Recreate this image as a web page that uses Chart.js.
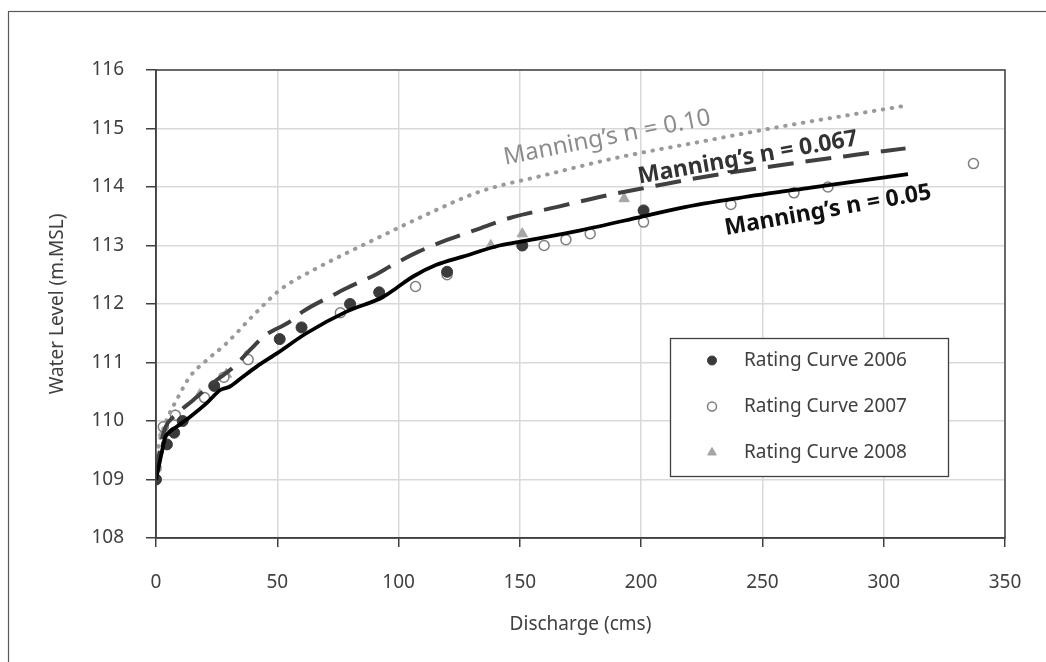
<!DOCTYPE html>
<html>
<head>
<meta charset="utf-8">
<script src="https://cdn.jsdelivr.net/npm/chart.js@4.4.0/dist/chart.umd.min.js"></script>
<style>
  html, body { margin: 0; padding: 0; background: #fff; }
</style>
</head>
<body>
<canvas id="ratingChart" width="1046" height="662"></canvas>
<script>
// Manning's n = 0.05 (solid)
const q05 = [0, 2.3, 3.7, 5, 8.5, 14, 21, 26.5, 30.5, 35, 41.5, 50, 62, 78.5, 93.6, 99, 106, 115.6, 126.5, 141.6, 152, 175, 200, 216, 240, 270, 310];
const h05 = [109.0, 109.45, 109.71, 109.79, 109.9, 110.07, 110.31, 110.53, 110.59, 110.73, 110.93, 111.16, 111.5, 111.87, 112.12, 112.27, 112.47, 112.67, 112.81, 113.0, 113.08, 113.26, 113.49, 113.64, 113.81, 113.99, 114.22];

// Manning's n = 0.067 (dashed)
const q067 = [0, 2, 4, 8, 15.4, 25, 30.5, 39.4, 44.2, 55.2, 60.5, 72.9, 78.5, 90.9, 96.4, 108, 119.7, 133.4, 145.8, 165.5, 182.8, 203.4, 222.6, 255, 288.5, 309];
const h067 = [109.05, 109.6, 109.9, 110.1, 110.36, 110.7, 110.87, 111.24, 111.44, 111.7, 111.87, 112.15, 112.27, 112.51, 112.64, 112.89, 113.09, 113.29, 113.47, 113.66, 113.83, 114.0, 114.15, 114.36, 114.55, 114.66];

// Manning's n = 0.10 (dotted)
const q10 = [0, 0.8, 2.5, 4.9, 8.5, 14, 20.9, 29.1, 40, 51.1, 64.8, 78.5, 89.4, 110, 133.4, 160, 190, 224, 260, 307.6];
const h10 = [109.1, 109.5, 109.8, 110.07, 110.36, 110.76, 111.04, 111.33, 111.8, 112.24, 112.58, 112.87, 113.09, 113.5, 113.92, 114.2, 114.5, 114.77, 115.05, 115.38];

// observed rating curves
const q2006 = [0, 4.5, 7.5, 11, 24, 51, 60, 80, 92, 120, 151, 201];
const h2006 = [109.0, 109.6, 109.8, 110.0, 110.6, 111.4, 111.6, 112.0, 112.2, 112.55, 113.0, 113.6];

const q2007 = [0, 1, 3, 8, 20, 28, 38, 76, 107, 120, 160, 169, 179, 201, 237, 263, 277, 337];
const h2007 = [109.2, 109.5, 109.9, 110.1, 110.4, 110.75, 111.05, 111.85, 112.3, 112.5, 113.0, 113.1, 113.2, 113.4, 113.7, 113.9, 114.0, 114.4];

const q2008 = [0, 1, 3, 8, 18, 29, 37, 138, 151, 193];
const h2008 = [109.2, 109.5, 109.8, 110.1, 110.45, 110.8, 111.1, 113.0, 113.2, 113.8];

const xTicks = [0, 50, 100, 150, 200, 250, 300, 350];
const yTicks = [108, 109, 110, 111, 112, 113, 114, 115, 116];

const FONT = "'Noto Sans', 'Open Sans', sans-serif";

function pairs(xs, ys) {
    return xs.map((x, i) => ({x: x, y: ys[i]}));
}

function lineSet(label, xs, ys, color, width, dash) {
    return {
        label: label,
        data: pairs(xs, ys),
        showLine: true,
        borderColor: color,
        borderWidth: width,
        borderDash: dash,
        borderCapStyle: dash.length && dash[0] < 4 ? 'round' : 'butt',
        pointRadius: 0,
        fill: false,
        cubicInterpolationMode: 'monotone',
        inLegend: false
    };
}

// frame round the whole figure and border of the plot area
const framePlugin = {
    id: 'frame',
    beforeDraw(chart) {
        const ctx = chart.ctx;
        ctx.save();
        ctx.fillStyle = '#fff';
        ctx.fillRect(0, 0, chart.width, chart.height);
        ctx.strokeStyle = '#595959';
        ctx.lineWidth = 1.2;
        ctx.strokeRect(8.5, 11.5, chart.width + 20, chart.height + 20);
        ctx.restore();
    },
    afterDatasetsDraw(chart) {
        const a = chart.chartArea;
        const ctx = chart.ctx;
        ctx.save();
        ctx.strokeStyle = '#404040';
        ctx.lineWidth = 1.5;
        ctx.strokeRect(a.left, a.top, a.right - a.left, a.bottom - a.top);
        ctx.restore();
    }
};

// rotated labels for the Manning's curves
const curveLabels = [
    {text: 'Manning\u2019s n = 0.10', x: 186, y: 114.84, angle: -11, color: '#8c8c8c', weight: 'normal', size: 24},
    {text: 'Manning\u2019s n = 0.067', x: 244, y: 114.5, angle: -10, color: '#333333', weight: 'bold', size: 23},
    {text: 'Manning\u2019s n = 0.05', x: 277, y: 113.6, angle: -10, color: '#111111', weight: 'bold', size: 23}
];

const labelPlugin = {
    id: 'curveLabels',
    afterDatasetsDraw(chart) {
        const ctx = chart.ctx;
        const xs = chart.scales.x, ys = chart.scales.y;
        curveLabels.forEach(l => {
            ctx.save();
            ctx.translate(xs.getPixelForValue(l.x), ys.getPixelForValue(l.y));
            ctx.rotate(l.angle * Math.PI / 180);
            ctx.font = l.weight + ' ' + l.size + 'px ' + FONT;
            ctx.fillStyle = l.color;
            ctx.textAlign = 'center';
            ctx.textBaseline = 'middle';
            ctx.fillText(l.text, 0, 0);
            ctx.restore();
        });
    }
};

// legend box inside the plot
const legendPlugin = {
    id: 'boxLegend',
    afterDraw(chart) {
        const ctx = chart.ctx;
        const box = {x: 670.5, y: 338.5, w: 278, h: 138};
        ctx.save();
        ctx.fillStyle = '#fff';
        ctx.fillRect(box.x, box.y, box.w, box.h);
        ctx.strokeStyle = '#404040';
        ctx.lineWidth = 1.3;
        ctx.strokeRect(box.x, box.y, box.w, box.h);
        const items = chart.data.datasets.filter(d => d.inLegend);
        ctx.font = '19px ' + FONT;
        ctx.textBaseline = 'middle';
        items.forEach((d, i) => {
            const cy = box.y + 22 + i * 46;
            ctx.fillStyle = d.backgroundColor;
            ctx.strokeStyle = d.borderColor;
            ctx.lineWidth = d.borderWidth;
            Chart.helpers.drawPoint(ctx, {
                pointStyle: d.pointStyle,
                radius: d.pointStyle === 'triangle' ? 5 : 4.5,
                rotation: 0,
                borderWidth: d.borderWidth
            }, 712, cy);
            ctx.fillStyle = '#404040';
            ctx.fillText(d.label, 744, cy);
        });
        ctx.restore();
    }
};

new Chart(document.getElementById('ratingChart').getContext('2d'), {
    type: 'scatter',
    data: {
        datasets: [
            lineSet("Manning's n = 0.05", q05, h05, '#000000', 3.8, []),
            lineSet("Manning's n = 0.067", q067, h067, '#404040', 4, [26, 12]),
            lineSet("Manning's n = 0.10", q10, h10, '#9a9a9a', 4, [0.5, 8.5]),
            {
                label: 'Rating Curve 2006',
                data: pairs(q2006, h2006),
                pointStyle: 'circle',
                pointRadius: 5.5,
                backgroundColor: '#3a3a3a',
                borderColor: '#3a3a3a',
                borderWidth: 1,
                inLegend: true
            },
            {
                label: 'Rating Curve 2007',
                data: pairs(q2007, h2007),
                pointStyle: 'circle',
                pointRadius: 5,
                backgroundColor: '#ffffff',
                borderColor: '#7f7f7f',
                borderWidth: 1.5,
                inLegend: true
            },
            {
                label: 'Rating Curve 2008',
                data: pairs(q2008, h2008),
                pointStyle: 'triangle',
                pointRadius: 6,
                backgroundColor: '#a6a6a6',
                borderColor: '#a6a6a6',
                borderWidth: 1,
                inLegend: true
            }
        ]
    },
    options: {
        responsive: false,
        animation: false,
        devicePixelRatio: 1,
        layout: {padding: {top: 70, right: 41, left: 0, bottom: 0}},
        plugins: {
            legend: {display: false},
            tooltip: {enabled: false}
        },
        scales: {
            x: {
                type: 'linear',
                min: 0,
                max: 350,
                afterBuildTicks: scale => { scale.ticks = xTicks.map(v => ({value: v})); },
                afterFit: scale => { scale.height = 124; },
                grid: {color: '#d9d9d9', lineWidth: 1.5, tickLength: 9, tickColor: '#404040', tickWidth: 1.5},
                border: {color: '#404040', width: 1.5},
                ticks: {color: '#404040', font: {family: FONT, size: 19}, padding: 24},
                title: {
                    display: true,
                    text: 'Discharge (cms)',
                    color: '#404040',
                    font: {family: FONT, size: 19},
                    padding: {top: 0, bottom: 26}
                }
            },
            y: {
                type: 'linear',
                min: 108,
                max: 116,
                afterBuildTicks: scale => { scale.ticks = yTicks.map(v => ({value: v})); },
                afterFit: scale => { scale.width = 156; },
                grid: {color: '#d9d9d9', lineWidth: 1.5, tickLength: 10, tickColor: '#404040', tickWidth: 1.5},
                border: {color: '#404040', width: 1.5},
                ticks: {color: '#404040', font: {family: FONT, size: 19}, padding: 22},
                title: {
                    display: true,
                    text: 'Water Level (m.MSL)',
                    color: '#404040',
                    font: {family: FONT, size: 19},
                    padding: {top: 46, bottom: 0}
                }
            }
        }
    },
    plugins: [framePlugin, labelPlugin, legendPlugin]
});
</script>
</body>
</html>
